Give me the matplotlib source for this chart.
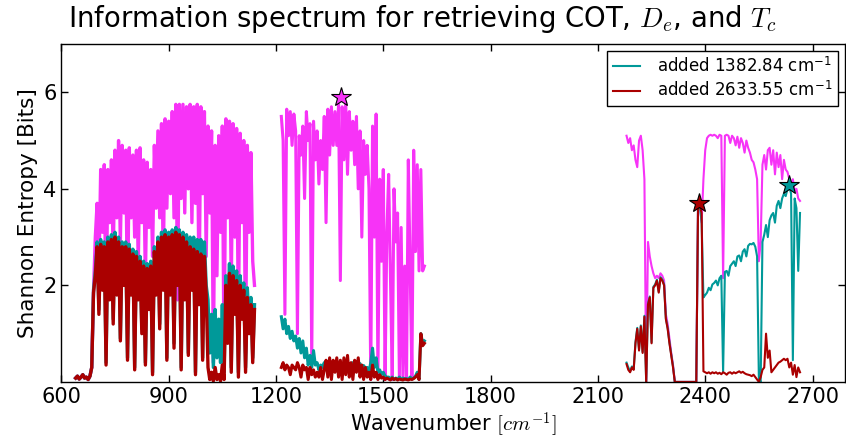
import numpy as np
import matplotlib
matplotlib.use('Agg')
import matplotlib.pyplot as plt

# ---- data (Shannon entropy [bits] vs wavenumber) ----
# segment 1: 640 - 1140 cm-1, 5 cm-1 spacing
base_1 = [0.08, 0.12, 0.06, 0.1, 0.15, 0.08, 0.1, 0.05, 0.12, 0.3,
          1.9, 3.0, 3.7, 2.2, 4.4, 3.1, 4.5, 1.2, 4.4, 3.3,
          4.6, 2.6, 4.8, 3.4, 5.0, 2.9, 4.9, 3.5, 4.8, 1.5,
          4.85, 3.4, 4.7, 3.0, 4.8, 2.4, 4.85, 3.3, 4.6, 2.1,
          4.55, 3.2, 4.4, 2.6, 4.9, 3.6, 5.2, 3.4, 5.35, 2.4,
          5.45, 3.6, 5.4, 3.9, 5.6, 3.4, 5.75, 1.7, 5.75, 3.8,
          5.75, 3.5, 5.7, 4.0, 5.75, 3.3, 5.7, 3.7, 5.75, 1.8,
          5.7, 3.9, 5.6, 2.6, 5.3, 3.5, 5.2, 0.4, 4.9, 2.2,
          5.1, 3.1, 5.3, 0.3, 5.45, 3.4, 5.4, 2.0, 5.35, 3.0,
          5.25, 1.2, 5.15, 3.3, 5.0, 0.6, 4.9, 3.1, 4.75, 2.5,
          2.0]
teal_1 = [0.08, 0.12, 0.06, 0.1, 0.15, 0.08, 0.1, 0.05, 0.12, 0.3,
          1.9, 2.3, 2.9, 1.5, 2.95, 2.0, 2.9, 0.4, 3.0, 1.8,
          3.05, 1.3, 3.1, 1.9, 3.0, 0.9, 2.9, 2.1, 2.9, 0.5,
          2.85, 1.9, 2.75, 0.3, 2.7, 1.8, 2.6, 1.1, 2.5, 0.4,
          2.45, 1.6, 2.5, 0.2, 2.8, 1.9, 3.0, 1.2, 3.1, 2.0,
          3.15, 0.5, 3.1, 1.9, 3.15, 0.8, 3.2, 2.1, 3.15, 0.3,
          3.1, 1.8, 3.05, 0.6, 3.0, 2.0, 3.0, 0.2, 2.95, 1.7,
          2.95, 0.5, 2.9, 2.0, 1.7, 0.6, 1.4, 0.3, 1.5, 0.5,
          1.3, 0.4, 1.6, 0.2, 2.2, 1.0, 2.45, 0.3, 2.4, 1.6,
          2.3, 0.2, 2.2, 1.5, 2.05, 0.3, 1.95, 1.2, 1.75, 0.5,
          1.6]
red_1 = [0.08, 0.12, 0.06, 0.1, 0.15, 0.08, 0.1, 0.05, 0.12, 0.3,
         1.85, 2.2, 2.8, 1.4, 2.85, 1.9, 2.8, 0.35, 2.9, 1.7,
         2.95, 1.2, 3.0, 1.8, 2.9, 0.85, 2.8, 2.0, 2.8, 0.45,
         2.75, 1.8, 2.65, 0.25, 2.6, 1.7, 2.5, 1.0, 2.4, 0.35,
         2.35, 1.5, 2.4, 0.15, 2.7, 1.8, 2.9, 1.1, 3.0, 1.9,
         3.05, 0.45, 3.0, 1.8, 3.05, 0.7, 3.1, 2.0, 3.05, 0.25,
         3.0, 1.7, 2.9, 0.55, 2.8, 1.9, 2.75, 0.15, 2.7, 1.6,
         2.65, 0.45, 2.6, 1.8, 0.3, 0.05, 0.2, 0.02, 0.3, 0.05,
         0.15, 0.02, 0.35, 0.05, 2.0, 0.8, 2.25, 0.2, 2.2, 1.4,
         2.1, 0.1, 2.0, 1.3, 1.9, 0.2, 1.75, 1.0, 1.6, 0.4,
         1.5]

# segment 2: 1215 - 1615 cm-1, 5 cm-1 spacing
base_2 = [5.5, 5.0, 1.4, 5.65, 5.1, 5.6, 4.9, 5.55, 5.2, 1.0,
          5.1, 4.7, 5.3, 3.8, 5.6, 5.0, 5.35, 0.4, 5.4, 4.6,
          5.2, 4.1, 5.0, 4.4, 5.5, 3.3, 5.65, 4.7, 5.7, 4.9,
          5.6, 4.9, 5.75, 2.1, 5.7, 4.6, 5.8, 4.3, 5.6, 4.8,
          5.4, 4.5, 5.5, 4.0, 5.2, 3.0, 5.0, 4.3, 4.9, 4.0,
          0.05, 5.3, 3.0, 5.55, 0.1, 4.2, 2.5, 4.4, 0.05, 3.1,
          4.3, 2.2, 0.05, 4.0, 2.9, 3.5, 0.1, 3.2, 0.05, 2.4,
          0.05, 4.6, 2.4, 0.1, 4.8, 2.7, 4.5, 2.3, 4.4, 2.3,
          2.4]
teal_2 = [1.35, 1.1, 1.3, 1.0, 1.15, 0.9, 1.05, 0.85, 0.95, 0.7,
          0.9, 0.6, 0.85, 0.5, 0.7, 0.35, 0.55, 0.3, 0.65, 0.35,
          0.4, 0.25, 0.35, 0.3, 0.4, 0.25, 0.35, 0.3, 0.38, 0.22,
          0.35, 0.28, 0.4, 0.22, 0.33, 0.3, 0.38, 0.25, 0.36, 0.3,
          0.4, 0.25, 0.35, 0.3, 0.38, 0.22, 0.34, 0.28, 0.3, 0.2,
          0.4, 0.7, 0.3, 0.5, 0.2, 0.25, 0.15, 0.2, 0.12, 0.1,
          0.1, 0.06, 0.1, 0.05, 0.08, 0.06, 0.1, 0.05, 0.08, 0.06,
          0.07, 0.05, 0.1, 0.06, 0.08, 0.12, 0.2, 0.05, 1.0, 0.8,
          0.85]
red_2 = [0.3, 0.4, 0.25, 0.35, 0.3, 0.15, 0.35, 0.3, 0.25, 0.4,
         0.3, 0.1, 0.35, 0.25, 0.3, 0.05, 0.3, 0.15, 0.25, 0.1,
         0.2, 0.1, 0.3, 0.05, 0.25, 0.45, 0.1, 0.5, 0.05, 0.45,
         0.2, 0.5, 0.1, 0.45, 0.05, 0.5, 0.15, 0.55, 0.1, 0.4,
         0.05, 0.45, 0.2, 0.5, 0.1, 0.35, 0.05, 0.3, 0.1, 0.2,
         0.05, 0.35, 0.1, 0.2, 0.05, 0.15, 0.08, 0.1, 0.05, 0.08,
         0.06, 0.04, 0.08, 0.05, 0.07, 0.04, 0.06, 0.05, 0.04, 0.06,
         0.05, 0.04, 0.06, 0.05, 0.07, 0.1, 0.15, 0.05, 1.0, 0.75,
         0.8]

# segment 3: 2180 - 2665 cm-1, 5 cm-1 spacing
base_3 = [5.1, 4.95, 5.05, 4.8, 4.9, 4.6, 4.45, 5.0, 5.1, 4.8,
          4.2, 0.0, 2.9, 2.6, 2.4, 2.25, 2.15, 2.2, 2.15, 2.25,
          2.2, 2.1, 1.4, 1.2, 0.9, 0.6, 0.35, 0.0, 0.0, 0.0,
          0.0, 0.0, 0.0, 0.0, 0.0, 0.0, 0.0, 0.0, 0.0, 0.0,
          3.7, 3.65, 3.3, 4.2, 4.8, 5.05, 5.1, 5.12, 5.1, 5.12,
          5.1, 5.05, 5.12, 5.1, 2.15, 5.1, 5.12, 5.1, 4.95, 5.1,
          5.05, 4.9, 5.08, 4.85, 5.05, 4.95, 4.75, 5.0, 4.85, 4.75,
          4.6, 4.55, 4.4, 4.2, 2.5, 2.9, 4.5, 4.7, 4.4, 4.8,
          4.85, 4.5, 4.8, 4.3, 4.75, 4.45, 4.7, 4.2, 4.6, 4.4,
          4.35, 4.2, 4.1, 4.2, 3.95, 4.0, 3.8, 3.75]
teal_3 = [0.4, 0.3, 0.22, 0.32, 0.27, 0.82, 1.12, 0.68, 1.17, 0.62,
          1.37, 0.0, 1.62, 1.77, 0.82, 1.97, 2.02, 2.12, 1.87, 2.17,
          2.12, 2.02, 1.32, 1.12, 0.82, 0.57, 0.32, 0.0, 0.0, 0.0,
          0.0, 0.0, 0.0, 0.0, 0.0, 0.0, 0.0, 0.0, 0.0, 0.0,
          3.7, 3.65, 3.3, 1.75, 1.8, 1.85, 1.95, 1.9, 2.02, 2.05,
          2.1, 2.0, 2.15, 2.2, 0.2, 2.28, 2.3, 2.2, 2.4, 2.45,
          2.5, 2.4, 2.6, 2.62, 2.5, 2.7, 2.75, 2.6, 2.82, 2.86,
          2.85, 2.88, 2.8, 2.6, 0.05, 0.0, 2.9, 3.05, 3.25, 3.0,
          3.35, 3.45, 3.5, 3.3, 3.65, 3.75, 3.6, 3.8, 3.9, 3.85,
          4.0, 4.05, 3.9, 0.45, 3.8, 3.6, 2.3, 3.5]
red_3 = [0.37, 0.25, 0.2, 0.3, 0.25, 0.8, 1.1, 0.65, 1.15, 0.6,
         1.35, 0.0, 1.6, 1.75, 0.8, 1.95, 2.0, 2.1, 1.85, 2.15,
         2.1, 2.0, 1.3, 1.1, 0.8, 0.55, 0.3, 0.0, 0.0, 0.0,
         0.0, 0.0, 0.0, 0.0, 0.0, 0.0, 0.0, 0.0, 0.0, 0.0,
         3.7, 3.65, 3.5, 0.22, 0.2, 0.18, 0.2, 0.17, 0.2, 0.18,
         0.2, 0.17, 0.19, 0.16, 0.2, 0.18, 0.15, 0.19, 0.2, 0.17,
         0.2, 0.18, 0.2, 0.22, 0.19, 0.21, 0.18, 0.16, 0.15, 0.14,
         0.12, 0.15, 0.1, 0.05, 0.0, 0.1, 0.25, 0.3, 1.0, 0.5,
         0.65, 0.2, 0.25, 0.3, 0.35, 0.4, 0.42, 0.45, 0.48, 0.45,
         0.48, 0.3, 0.4, 0.15, 0.35, 0.1, 0.3, 0.2]

seg_ranges = [(640, 1140), (1215, 1615), (2180, 2665)]
seg_lw = [2.4, 2.2, 1.5]
base_segs = [base_1, base_2, base_3]
teal_segs = [teal_1, teal_2, teal_3]
red_segs = [red_1, red_2, red_3]

# selected channels (stars)
star_base = (1382.84, 5.9)
star_teal = (2633.55, 4.07)
star_red = (2382.5, 3.7)

legend_labels = ['added 1382.84 cm$^{\\mathregular{-1}}$',
                 'added 2633.55 cm$^{\\mathregular{-1}}$']

c_base = '#f733f7'
c_teal = '#009999'
c_red = '#aa0000'

plt.rcParams['font.family'] = ['DejaVu Sans']
plt.rcParams['mathtext.fontset'] = 'cm'

fig = plt.figure(figsize=(8.46, 4.38), dpi=100)
ax = fig.add_axes([0.0725, 0.128, 0.926, 0.7715])

handles = []
for segs, col in [(base_segs, c_base), (teal_segs, c_teal), (red_segs, c_red)]:
    for i, (lo, hi) in enumerate(seg_ranges):
        y = np.array(segs[i])
        x = np.linspace(lo, hi, len(y))
        ln, = ax.plot(x, y, color=col, lw=seg_lw[i])
        if i == 0:
            handles.append(ln)

for (sx, sy), col in [(star_base, c_base), (star_teal, c_teal), (star_red, c_red)]:
    ax.plot(sx, sy, marker='*', ms=15, mfc=col, mec='black', mew=0.8, ls='none')

ax.set_xlim(600, 2790)
ax.set_ylim(0, 7)
ax.set_xticks([600, 900, 1200, 1500, 1800, 2100, 2400, 2700])
ax.set_yticks([2, 4, 6])
ax.tick_params(direction='in', length=5, width=1, top=True, right=True, labelsize=15)
for sp in ax.spines.values():
    sp.set_linewidth(1.0)

# title sits left of the axes centre in the reference, pin its left edge
fig.text(68 / 846, 1 - 19 / 438, 'Information spectrum for retrieving COT, $D_e$, and $T_c$',
         fontsize=19.8, ha='left', va='center')
ax.set_xlabel('Wavenumber $[cm^{-1}]$', fontsize=15, labelpad=2)
ax.set_ylabel('Shannon Entropy [Bits]', fontsize=15.5)

leg = ax.legend(handles[1:], legend_labels, loc='upper right', fontsize=12,
                fancybox=False, edgecolor='black', framealpha=1,
                handlelength=1.6, handletextpad=1.0, borderaxespad=0.4,
                borderpad=0.35, labelspacing=0.3)
leg.get_frame().set_linewidth(1.0)
for h in leg.legend_handles:
    h.set_linewidth(1.5)

fig.savefig('out.png', dpi=100)
